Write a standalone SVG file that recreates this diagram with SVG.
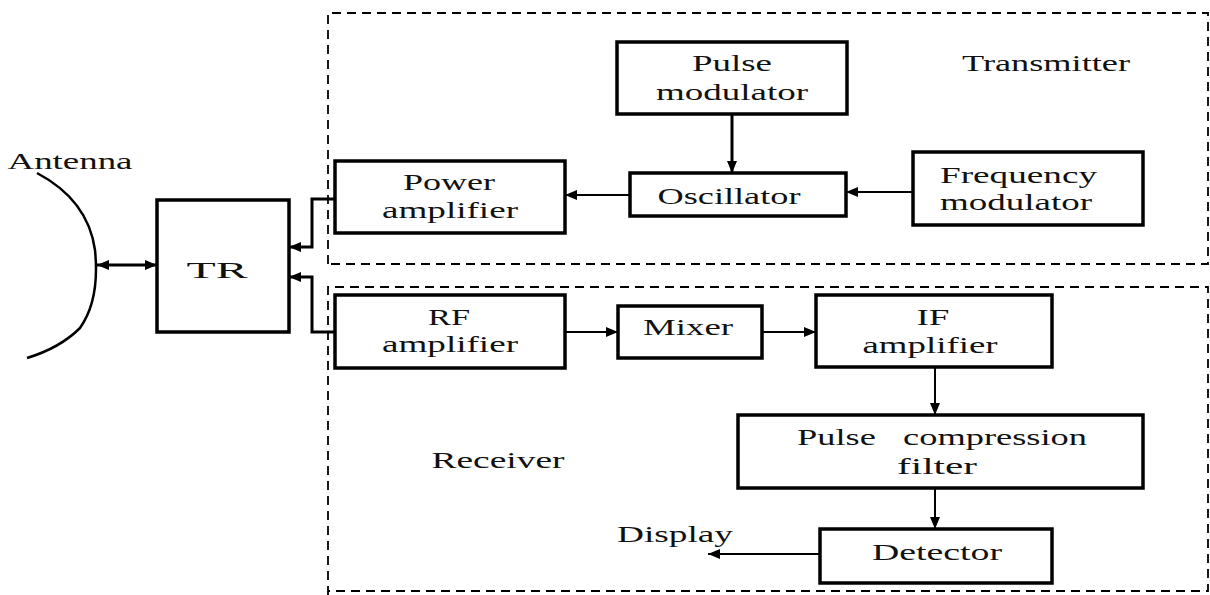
<svg xmlns="http://www.w3.org/2000/svg" width="1210" height="595" viewBox="0 0 1210 595">
<defs>
<marker id="ah" viewBox="0 0 12 10" refX="12" refY="5" markerWidth="12" markerHeight="10" markerUnits="userSpaceOnUse" orient="auto-start-reverse">
<path d="M0,0 L12,5 L0,10 z" fill="#000"/>
</marker>
<style>
.box{fill:#fff;stroke:#000;stroke-width:3.5}
text{font-family:'Liberation Serif','DejaVu Serif','Times New Roman',serif;font-size:24px;fill:#111}
.t{text-anchor:middle}
.tl{text-anchor:start}
.c{fill:none;stroke:#000;stroke-width:2}
.ct{fill:none;stroke:#000;stroke-width:3}
.dash{fill:none;stroke:#000;stroke-width:1.8;stroke-dasharray:9 6}
</style>
</defs>
<rect width="1210" height="595" fill="#fff"/>
<g id="transmitter-region">
<path class="dash" d="M328,264 L328,13 L1208,13 L1208,264 L328,264"/>
<text class="t" x="1046" y="71" textLength="168" lengthAdjust="spacingAndGlyphs">Transmitter</text>
</g>
<g id="receiver-region">
<path class="dash" d="M328,595 L328,287 L1208,287 L1208,591 L328,591"/>
<text class="t" x="498" y="468" textLength="133" lengthAdjust="spacingAndGlyphs">Receiver</text>
</g>
<g id="antenna">
<path d="M37,173 Q88,200 95,250 Q100,300 80,328 Q60,348 27,358" fill="none" stroke="#000" stroke-width="2.5"/>
<text class="t" x="70" y="169" textLength="125" lengthAdjust="spacingAndGlyphs">Antenna</text>
</g>
<g id="tr">
<rect class="box" x="157" y="200" width="132" height="132"/>
<text class="t" x="217" y="278" textLength="61" lengthAdjust="spacingAndGlyphs">TR</text>
</g>
<g id="power-amplifier">
<rect class="box" x="335" y="161" width="230" height="72"/>
<text class="t" x="449" y="190" textLength="92" lengthAdjust="spacingAndGlyphs">Power</text>
<text class="t" x="450" y="218" textLength="136" lengthAdjust="spacingAndGlyphs">amplifier</text>
</g>
<g id="pulse-modulator">
<rect class="box" x="617" y="42" width="230" height="72"/>
<text class="t" x="732" y="71" textLength="80" lengthAdjust="spacingAndGlyphs">Pulse</text>
<text class="t" x="732" y="100" textLength="152" lengthAdjust="spacingAndGlyphs">modulator</text>
</g>
<g id="oscillator">
<rect class="box" x="630" y="173" width="216" height="43"/>
<text class="t" x="729" y="204" textLength="143" lengthAdjust="spacingAndGlyphs">Oscillator</text>
</g>
<g id="frequency-modulator">
<rect class="box" x="913" y="152" width="230" height="73"/>
<text class="tl" x="940" y="183" textLength="157" lengthAdjust="spacingAndGlyphs">Frequency</text>
<text class="tl" x="940" y="210" textLength="152" lengthAdjust="spacingAndGlyphs">modulator</text>
</g>
<g id="rf-amplifier">
<rect class="box" x="335" y="295" width="230" height="73"/>
<text class="t" x="449" y="325" textLength="42" lengthAdjust="spacingAndGlyphs">RF</text>
<text class="t" x="450" y="352" textLength="136" lengthAdjust="spacingAndGlyphs">amplifier</text>
</g>
<g id="mixer">
<rect class="box" x="618" y="306" width="144" height="52"/>
<text class="t" x="688" y="335" textLength="90" lengthAdjust="spacingAndGlyphs">Mixer</text>
</g>
<g id="if-amplifier">
<rect class="box" x="816" y="295" width="236" height="72"/>
<text class="t" x="933" y="325" textLength="33" lengthAdjust="spacingAndGlyphs">IF</text>
<text class="t" x="930" y="353" textLength="135" lengthAdjust="spacingAndGlyphs">amplifier</text>
</g>
<g id="pulse-compression-filter">
<rect class="box" x="738" y="415" width="405" height="73"/>
<text class="t" x="942" y="445" textLength="290" lengthAdjust="spacingAndGlyphs" word-spacing="12">Pulse compression</text>
<text class="t" x="937" y="474" textLength="80" lengthAdjust="spacingAndGlyphs">filter</text>
</g>
<g id="detector">
<rect class="box" x="820" y="529" width="232" height="54"/>
<text class="t" x="937" y="560" textLength="130" lengthAdjust="spacingAndGlyphs">Detector</text>
</g>
<g id="display">
<text class="t" x="675" y="542" textLength="116" lengthAdjust="spacingAndGlyphs">Display</text>
</g>
<g id="connectors">
<line class="ct" x1="97" y1="265" x2="157" y2="265" marker-start="url(#ah)" marker-end="url(#ah)"/>
<line class="ct" x1="732" y1="114" x2="732" y2="173" marker-end="url(#ah)"/>
<line class="c" x1="913" y1="192" x2="846" y2="192" marker-end="url(#ah)"/>
<line class="c" x1="630" y1="195" x2="565" y2="195" marker-end="url(#ah)"/>
<polyline class="ct" points="335,199 312,199 312,247 289,247" marker-end="url(#ah)"/>
<polyline class="ct" points="335,332 312,332 312,277 289,277" marker-end="url(#ah)"/>
<line class="c" x1="565" y1="332" x2="618" y2="332" marker-end="url(#ah)"/>
<line class="c" x1="762" y1="332" x2="816" y2="332" marker-end="url(#ah)"/>
<line class="c" x1="935" y1="367" x2="935" y2="415" marker-end="url(#ah)"/>
<line class="c" x1="935" y1="488" x2="935" y2="529" marker-end="url(#ah)"/>
<line class="c" x1="820" y1="554" x2="708" y2="554" marker-end="url(#ah)"/>
</g>
</svg>
